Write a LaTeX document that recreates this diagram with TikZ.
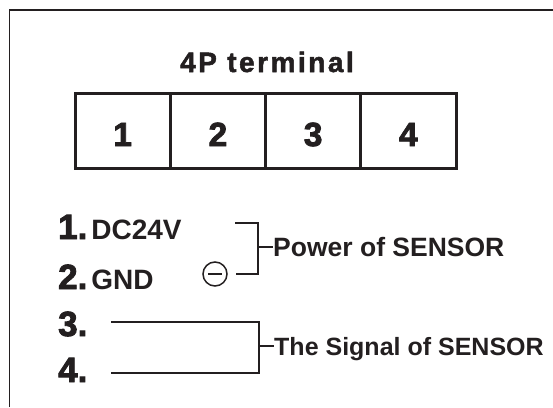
\documentclass[tikz,border=0pt]{standalone}
\usepackage{fontspec}
\setmainfont{Liberation Sans}
\newfontfamily\heavyfont{Liberation Sans Bold}[FakeBold=2.5]
\newfontfamily\titlefont{Liberation Sans Bold}[FakeBold=1.8, LetterSpace=9]
\usetikzlibrary{positioning}
\definecolor{ink}{RGB}{35,31,32}
\newcommand{\fs}[1]{\fontsize{#1}{#1}\selectfont\bfseries}
\newcommand{\hv}[1]{\heavyfont\fontsize{#1}{#1}\selectfont}
\newcommand{\bigdig}[1]{{\hv{35}#1}}
\tikzset{
  cell/.style={draw=ink, line width=3pt, minimum width=95.25pt, minimum height=75pt,
    inner sep=0pt, text height=31pt, text depth=0pt, font=\hv{33.5}, text=ink},
  pin/.style={anchor=base west, inner sep=0pt, text=ink},
  lbl/.style={inner sep=0pt, text depth=0pt, text=ink},
  wire/.style={draw=ink, line width=2pt},
}

\begin{document}
\begin{tikzpicture}[x=1pt, y=-1pt]
\useasboundingbox (0,0) rectangle (553,407);

% ── Marco ───────────────────────────────────────────────
\draw[ink, line width=1.5pt] (9.5,407) |- (553,10);

% ── Bornera 4P ──────────────────────────────────────────
\node[text=ink, font=\titlefont\fontsize{28}{28}\selectfont, anchor=base] (title) at (267,72) {4P terminal};
\foreach \i in {1,...,4} {
  \node[cell] (t\i) at ({75+95.25*(\i-0.5)}, 130.5) {\i};
}

% ── Pines ───────────────────────────────────────────────
\node[pin] (l1) at (58,239) {\bigdig{1.}\kern4pt{\fs{28}DC24V}};
\node[pin] (l2) at (58,289) {\bigdig{2.}\kern4pt{\fs{28}GND}};
\node[pin] (l3) at (58,336) {\bigdig{3.}};
\node[pin] (l4) at (58,382) {\bigdig{4.}};
\node[draw=ink, circle, line width=1.5pt, minimum size=24pt, inner sep=0pt] (neg) at (215,274)
  {\color{ink}\rule{14pt}{2pt}};

% ── Alimentacion (1, 2) ─────────────────────────────────
\coordinate (pa) at (235,223);
\coordinate (pbar) at (258,247);
\draw[wire] (pa) -| (pbar) |- ([xshift=8pt]neg.east);
\node[lbl, right=15pt of pbar, font=\fs{26.5}] (pw) {Power of SENSOR};
\draw[wire] (pbar) -- (pw.west);

% ── Senal (3, 4) ────────────────────────────────────────
\coordinate (s3) at (111,322);
\coordinate (s4) at (111,373);
\coordinate (sbar) at (259,346);
\draw[wire] (s3) -| (sbar) |- (s4);
\node[lbl, right=15pt of sbar, font=\fs{25}] (sg) {The Signal of SENSOR};
\draw[wire] (sbar) -- (sg.west);

\end{tikzpicture}
\end{document}
